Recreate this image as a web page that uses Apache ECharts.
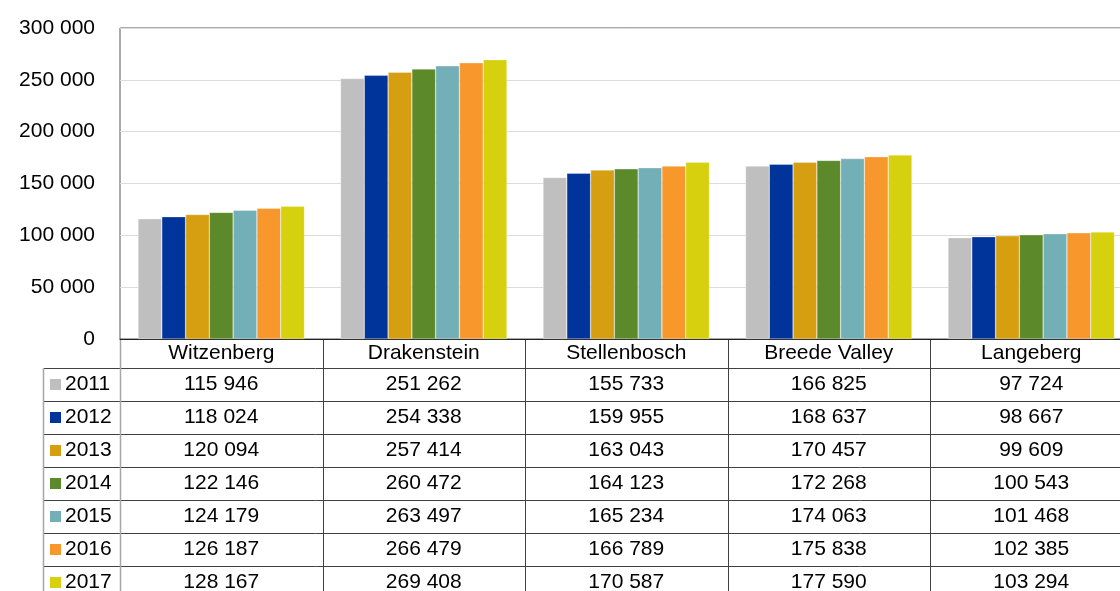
<!DOCTYPE html>
<html>
<head>
<meta charset="utf-8">
<script src="https://cdn.jsdelivr.net/npm/echarts@6/dist/echarts.min.js"></script>
<style>html,body{margin:0;padding:0;background:#fff;overflow:hidden;width:1120px;height:591px}#c{width:1133px;height:591px}</style>
</head>
<body>
<div id="c"></div>
<script>
const categories = ['Witzenberg', 'Drakenstein', 'Stellenbosch', 'Breede Valley', 'Langeberg'];
const years = ['2011', '2012', '2013', '2014', '2015', '2016', '2017'];
const colors = ['#BFBFBF', '#00349A', '#D69F12', '#5C8A2A', '#73AFB7', '#F8972B', '#D6D00F'];
const v2011 = [115946, 251262, 155733, 166825, 97724];
const v2012 = [118024, 254338, 159955, 168637, 98667];
const v2013 = [120094, 257414, 163043, 170457, 99609];
const v2014 = [122146, 260472, 164123, 172268, 100543];
const v2015 = [124179, 263497, 165234, 174063, 101468];
const v2016 = [126187, 266479, 166789, 175838, 102385];
const v2017 = [128167, 269408, 170587, 177590, 103294];
const seriesValues = [v2011, v2012, v2013, v2014, v2015, v2016, v2017];
const yTicks = [0, 50000, 100000, 150000, 200000, 250000, 300000];

const FONT = "'Liberation Sans', Arial, sans-serif";
const fmt = v => String(v).replace(/\B(?=(\d{3})+(?!\d))/g, ' ');

const chart = echarts.init(document.getElementById('c'), null, {renderer: 'canvas'});
const option = {
  animation: false,
  backgroundColor: '#fff',
  textStyle: {fontFamily: FONT},
  grid: {left: 120, top: 28, right: 0.5, bottom: 252, show: true, borderColor: '#555', borderWidth: 1, containLabel: false},
  xAxis: {
    type: 'category', data: categories,
    axisLine: {show: true, lineStyle: {color: '#222', width: 1}},
    axisTick: {show: false},
    axisLabel: {color: '#000', fontSize: 21, fontFamily: FONT, margin: 4, interval: 0},
    splitLine: {show: false}
  },
  yAxis: {
    type: 'value', min: yTicks[0], max: yTicks[yTicks.length - 1], interval: yTicks[1] - yTicks[0],
    axisLine: {show: false}, axisTick: {show: false},
    axisLabel: {color: '#000', fontSize: 21, fontFamily: FONT, margin: 25, formatter: v => fmt(v)},
    splitLine: {lineStyle: {color: '#DCDCDC', width: 1}}
  },
  series: years.map((y, i) => ({
    name: y, type: 'bar', data: seriesValues[i],
    barGap: '0%', barCategoryGap: '17.8%',
    itemStyle: {color: colors[i], borderColor: 'rgba(255,255,255,0.6)', borderWidth: 0.5}
  }))
};
chart.setOption(option);

function buildTable() {
  const els = [];
  const axisY = chart.convertToPixel({yAxisIndex: 0}, 0);
  const c0 = chart.convertToPixel({xAxisIndex: 0}, 0);
  const c1 = chart.convertToPixel({xAxisIndex: 0}, 1);
  const bw = c1 - c0;
  const leftX = Math.round(c0 - bw / 2) + 0.5;
  const tableTop = axisY + 28.5;
  const rowH = 33.1;
  const tableLeft = 43;
  const W = 1133, H = 591;
  for (let i = 0; i < years.length; i++) {
    const y = Math.round(tableTop + rowH * i) + 0.5;
    els.push({type: 'line', silent: true, shape: {x1: tableLeft, y1: y, x2: W, y2: y}, style: {stroke: '#404040', lineWidth: 1}});
  }
  els.push({type: 'line', silent: true, shape: {x1: tableLeft + 0.5, y1: Math.round(tableTop), x2: tableLeft + 0.5, y2: H}, style: {stroke: '#A6A6A6', lineWidth: 1.5}});
  els.push({type: 'line', silent: true, shape: {x1: leftX, y1: axisY, x2: leftX, y2: H}, style: {stroke: '#A6A6A6', lineWidth: 1.5}});
  for (let k = 1; k < categories.length; k++) {
    const x = Math.round(c0 - bw / 2 + bw * k) + 0.5;
    els.push({type: 'line', silent: true, shape: {x1: x, y1: axisY, x2: x, y2: H}, style: {stroke: '#404040', lineWidth: 1}});
  }
  years.forEach((yr, i) => {
    const cy = tableTop + rowH * i + rowH / 2;
    els.push({type: 'rect', silent: true, shape: {x: 50, y: Math.round(cy - 5.5), width: 11, height: 11}, style: {fill: colors[i]}});
    els.push({type: 'text', silent: true, x: 65, y: cy, style: {text: yr, fill: '#000', font: '21px ' + FONT, textAlign: 'left', textVerticalAlign: 'middle'}});
    categories.forEach((c, j) => {
      const cx = chart.convertToPixel({xAxisIndex: 0}, j);
      els.push({type: 'text', silent: true, x: cx, y: cy, style: {text: fmt(seriesValues[i][j]), fill: '#000', font: '21px ' + FONT, textAlign: 'center', textVerticalAlign: 'middle'}});
    });
  });
  chart.setOption({graphic: {elements: els}});
}
buildTable();
</script>
</body>
</html>
